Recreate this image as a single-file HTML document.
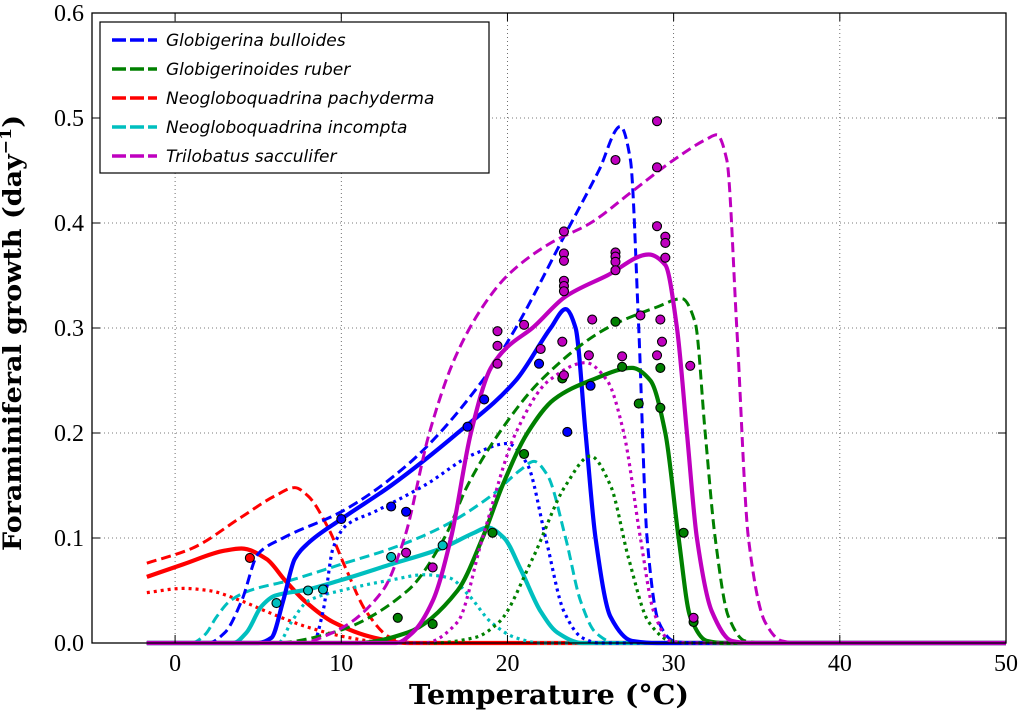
<!DOCTYPE html>
<html><head><meta charset="utf-8"><style>
body{margin:0;background:#fff;}
svg text{font-family:"Liberation Serif",serif;}
</style></head><body>
<svg id="chart" width="1021" height="712" viewBox="0 0 1021 712" xmlns="http://www.w3.org/2000/svg">
<g id="grid"></g>
<g id="curves"></g>
<g id="points"></g>
<rect x="92" y="13" width="914" height="630" fill="none" stroke="#000" stroke-width="1.3"/>
<g id="ticks"></g>
<text x="549" y="704" text-anchor="middle" font-size="27" font-weight="bold" textLength="280" lengthAdjust="spacingAndGlyphs" style='font-family:"DejaVu Serif",serif'>Temperature (°C)</text>
<text transform="translate(21,333) rotate(-90)" text-anchor="middle" font-size="25" font-weight="bold" textLength="436" lengthAdjust="spacingAndGlyphs" style='font-family:"DejaVu Serif",serif'>Foraminiferal growth (day<tspan font-size="16" dy="-10">−1</tspan><tspan dy="10">)</tspan></text>
<g id="legend">
<rect x="100" y="22" width="389" height="151" fill="#fff" stroke="#000" stroke-width="1.2"/>
</g>
</svg>
<script>
const xTicks=[0,10,20,30,40,50];
const yTicks=[0.0,0.1,0.2,0.3,0.4,0.5,0.6];
const speciesNames=["Globigerina bulloides","Globigerinoides ruber","Neogloboquadrina pachyderma","Neogloboquadrina incompta","Trilobatus sacculifer"];
const speciesColors=["#0000ff","#008000","#ff0000","#00bfbf","#bf00bf"];
const blueSolid=[[-1.7,0],[5,0],[5.8,0.005],[6.5,0.04],[7.2,0.08],[8,0.095],[10,0.118],[13,0.15],[17,0.2],[20.5,0.25],[22.6,0.3],[23.5,0.318],[24.1,0.3],[24.7,0.2],[25.3,0.1],[26.2,0.025],[27.5,0.002],[29,0],[50,0]];
const blueDashed=[[-1.7,0],[2,0],[3,0.01],[4,0.04],[5,0.085],[6.5,0.1],[10,0.125],[14,0.17],[18.5,0.25],[20.5,0.3],[23.5,0.39],[25.5,0.45],[26.8,0.492],[27.4,0.46],[27.9,0.3],[28.4,0.1],[29.1,0.02],[30,0.002],[31,0],[50,0]];
const blueDotted=[[-1.7,0],[8.3,0],[8.9,0.03],[9.5,0.09],[10.3,0.112],[12,0.125],[15,0.15],[18,0.18],[20,0.19],[21.2,0.17],[22.3,0.1],[23.4,0.03],[24.5,0.005],[25.5,0],[50,0]];
const greenSolid=[[-1.7,0],[11,0],[14,0.01],[17,0.05],[18.5,0.1],[19.7,0.15],[21.2,0.2],[22.8,0.232],[25,0.25],[27.5,0.262],[28.6,0.25],[29.5,0.2],[30.3,0.1],[31,0.025],[32,0.002],[33,0],[50,0]];
const greenDashed=[[-1.7,0],[6,0],[9.5,0.01],[14,0.05],[16.2,0.1],[17.6,0.15],[19.5,0.2],[22,0.25],[26,0.3],[29,0.32],[30.5,0.328],[31.3,0.305],[31.9,0.2],[32.5,0.1],[33.3,0.025],[34.3,0.002],[35.5,0],[50,0]];
const greenDotted=[[-1.7,0],[15.5,0],[18,0.005],[19.5,0.02],[21.5,0.08],[23.5,0.15],[25,0.178],[26.2,0.15],[27.3,0.08],[28.5,0.02],[29.8,0.002],[31,0],[50,0]];
const redSolid=[[-1.7,0.063],[0.5,0.075],[3,0.088],[4,0.09],[5.5,0.08],[6.6,0.06],[7.8,0.04],[9.5,0.02],[12,0.005],[14,0],[50,0]];
const redDashed=[[-1.7,0.076],[1,0.09],[4,0.12],[6,0.14],[7.2,0.148],[8,0.14],[9.2,0.11],[10.3,0.07],[11.5,0.03],[13,0.005],[14.5,0],[50,0]];
const redDotted=[[-1.7,0.048],[0.5,0.052],[2,0.05],[4,0.04],[5.5,0.03],[8,0.015],[10.5,0.005],[13,0],[50,0]];
const cyanSolid=[[-1.7,0],[3.5,0],[4.3,0.01],[5.2,0.035],[6,0.045],[8,0.051],[10,0.06],[13,0.075],[16,0.09],[18,0.105],[18.8,0.11],[19.8,0.1],[20.8,0.07],[22,0.03],[23,0.01],[24.5,0],[50,0]];
const cyanDashed=[[-1.7,0],[1,0],[1.8,0.008],[2.5,0.025],[3.3,0.04],[4.5,0.05],[7,0.06],[10,0.075],[13,0.09],[16,0.11],[19,0.14],[20.8,0.165],[21.6,0.173],[22.4,0.16],[23.5,0.1],[24.4,0.04],[25.3,0.01],[26.5,0],[50,0]];
const cyanDotted=[[-1.7,0],[6.2,0],[7,0.02],[8,0.04],[10,0.05],[13,0.06],[15,0.065],[16.5,0.062],[17.7,0.045],[19,0.02],[20.5,0.005],[22,0],[50,0]];
const magSolid=[[-1.7,0],[13.3,0],[14.3,0.01],[15.5,0.04],[16.6,0.1],[17.8,0.2],[19,0.262],[20,0.282],[21.5,0.3],[23.5,0.33],[26,0.35],[28.5,0.37],[29.5,0.36],[30.2,0.3],[30.8,0.2],[31.4,0.1],[32.3,0.03],[33.5,0.002],[34.5,0],[50,0]];
const magDashed=[[-1.7,0],[7.5,0],[9.5,0.01],[12.5,0.05],[13.8,0.1],[15.3,0.2],[16.8,0.27],[18.5,0.32],[20,0.35],[22.5,0.38],[25,0.4],[27.5,0.43],[30,0.46],[32,0.48],[32.6,0.484],[33.2,0.46],[33.8,0.3],[34.5,0.1],[35.5,0.02],[36.5,0.002],[37.5,0],[50,0]];
const magDotted=[[-1.7,0],[15,0],[17,0.02],[18.5,0.1],[20.5,0.2],[22.5,0.25],[24.7,0.267],[26,0.25],[27,0.2],[28,0.1],[28.8,0.03],[29.8,0.002],[31,0],[50,0]];
const ptsRed=[[4.5,0.081]];
const ptsCyan=[[6.1,0.038],[8.0,0.050],[8.9,0.051],[13.0,0.082],[16.1,0.093]];
const ptsBlue=[[10.0,0.118],[13.0,0.130],[13.9,0.125],[17.6,0.206],[18.6,0.232],[21.9,0.266],[25.0,0.245],[23.6,0.201]];
const ptsGreen=[[13.4,0.024],[15.5,0.018],[19.1,0.105],[21.0,0.180],[23.3,0.252],[26.5,0.306],[26.9,0.263],[29.2,0.262],[29.2,0.224],[27.9,0.228],[30.6,0.105],[31.2,0.020]];
const ptsMag=[[29.0,0.497],[26.5,0.460],[29.0,0.453],[29.0,0.397],[29.5,0.387],[29.5,0.381],[29.5,0.367],[23.4,0.392],[23.4,0.371],[23.4,0.364],[23.4,0.345],[23.4,0.340],[23.4,0.335],[26.5,0.372],[26.5,0.368],[26.5,0.363],[26.5,0.355],[19.4,0.297],[19.4,0.283],[19.4,0.266],[21.0,0.303],[25.1,0.308],[28.0,0.312],[29.2,0.308],[23.3,0.287],[22.0,0.280],[24.9,0.274],[26.9,0.273],[29.3,0.287],[29.0,0.274],[31.0,0.264],[23.4,0.255],[15.5,0.072],[13.9,0.086],[31.2,0.024]];

const NS="http://www.w3.org/2000/svg";
const X0=92,X1=1006,Y0=643,Y1=13,xmin=-5,xmax=50,ymin=0,ymax=0.6;
const sx=v=>X0+(v-xmin)/(xmax-xmin)*(X1-X0);
const sy=v=>Y0-(v-ymin)/(ymax-ymin)*(Y0-Y1);
function mk(tag,attrs,parent){const e=document.createElementNS(NS,tag);for(const k in attrs)e.setAttribute(k,attrs[k]);parent.appendChild(e);return e;}
const grid=document.getElementById('grid'),ticks=document.getElementById('ticks');
xTicks.forEach(t=>{const x=sx(t);
 const g=mk('line',{x1:x,x2:x,y1:Y1,y2:Y0,stroke:'#000','stroke-width':0.8,'stroke-dasharray':'1,3',opacity:0.7},grid);
 
 mk('line',{x1:x,x2:x,y1:Y0,y2:Y0-8,stroke:'#000'},ticks);mk('line',{x1:x,x2:x,y1:Y1,y2:Y1+8,stroke:'#000'},ticks);
 const tx=mk('text',{x:x,y:Y0+28,'text-anchor':'middle','font-size':24},ticks);tx.textContent=t;
 });
yTicks.forEach(t=>{const y=sy(t);
 const g=mk('line',{x1:X0,x2:X1,y1:y,y2:y,stroke:'#000','stroke-width':0.8,'stroke-dasharray':'1,3',opacity:0.7},grid);
 
 mk('line',{x1:X0,x2:X0+8,y1:y,y2:y,stroke:'#000'},ticks);mk('line',{x1:X1,x2:X1-8,y1:y,y2:y,stroke:'#000'},ticks);
 const tx=mk('text',{x:X0-8,y:y+8,'text-anchor':'end','font-size':24},ticks);tx.textContent=t.toFixed(1);
 });
function pathD(k){const p=k.map(a=>[sx(a[0]),sy(a[1])]);const n=p.length;
 const d=[],m=[];for(let i=0;i<n-1;i++)d.push((p[i+1][1]-p[i][1])/(p[i+1][0]-p[i][0]));
 m[0]=d[0];m[n-1]=d[n-2];
 for(let i=1;i<n-1;i++){if(d[i-1]*d[i]<=0)m[i]=0;else{const h0=p[i][0]-p[i-1][0],h1=p[i+1][0]-p[i][0];const w1=2*h1+h0,w2=h1+2*h0;m[i]=(w1+w2)/(w1/d[i-1]+w2/d[i]);}}
 let s='M'+p[0][0]+','+p[0][1];
 for(let i=0;i<n-1;i++){const h=(p[i+1][0]-p[i][0])/3;
  s+=' C'+(p[i][0]+h)+','+(p[i][1]+m[i]*h)+' '+(p[i+1][0]-h)+','+(p[i+1][1]-m[i+1]*h)+' '+p[i+1][0]+','+p[i+1][1];}
 return s;}
const curvesG=document.getElementById('curves');
const styles={solid:{w:4.2,da:''},dashed:{w:3,da:'10,5'},dotted:{w:3.2,da:'3,4'}};
const curveList=[[redDotted,2,'dotted'],[redDashed,2,'dashed'],[redSolid,2,'solid'],[cyanDotted,3,'dotted'],[cyanDashed,3,'dashed'],[cyanSolid,3,'solid'],[blueDotted,0,'dotted'],[blueDashed,0,'dashed'],[blueSolid,0,'solid'],[greenDotted,1,'dotted'],[greenDashed,1,'dashed'],[greenSolid,1,'solid'],[magDotted,4,'dotted'],[magDashed,4,'dashed'],[magSolid,4,'solid']];
curveList.forEach(c=>{const s=styles[c[2]];
 const p=mk('path',{d:pathD(c[0]),fill:'none',stroke:speciesColors[c[1]],'stroke-width':s.w,'stroke-dasharray':s.da},curvesG);
 });
const ptsG=document.getElementById('points');
[[ptsRed,2],[ptsCyan,3],[ptsBlue,0],[ptsGreen,1],[ptsMag,4]].forEach(s=>s[0].forEach(q=>{
 const c=mk('circle',{cx:sx(q[0]),cy:sy(q[1]),r:4.5,fill:speciesColors[s[1]],stroke:'#000','stroke-width':1.1},ptsG);
 }));
const leg=document.getElementById('legend');
speciesNames.forEach((n,i)=>{const y=40+i*29;
 const l=mk('line',{x1:112,x2:157,y1:y,y2:y,stroke:speciesColors[i],'stroke-width':3.5,'stroke-dasharray':'14,4'},leg);
 
 const t=mk('text',{x:166,y:y+6,'font-size':17,'font-style':'italic',style:'font-family:"DejaVu Sans",sans-serif'},leg);t.textContent=n;
 });
</script>
</body></html>
